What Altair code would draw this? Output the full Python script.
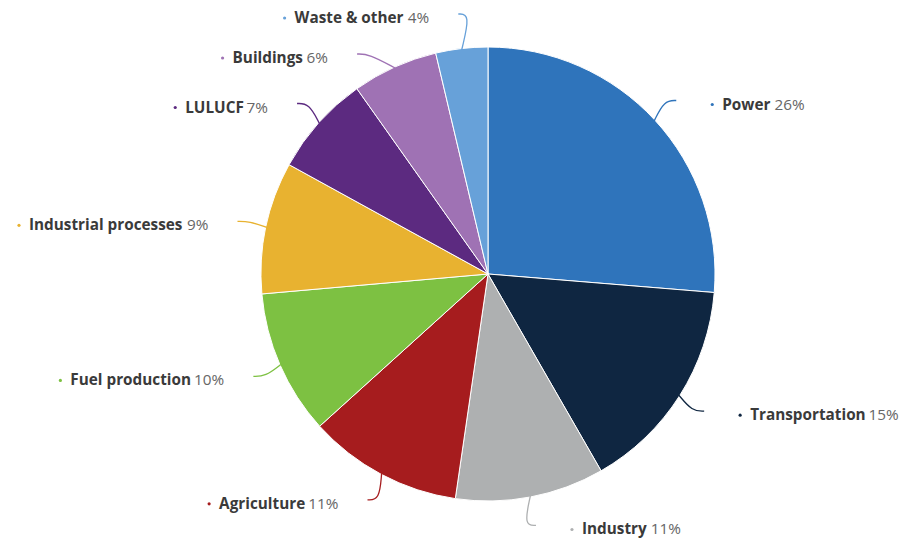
import math
import altair as alt
import pandas as pd

# ---- data ----
sectors = ["Power", "Transportation", "Industry", "Agriculture", "Fuel production",
           "Industrial processes", "LULUCF", "Buildings", "Waste & other"]
shares = [26.3, 15.4, 10.6, 11.0, 10.3, 9.4, 7.2, 6.1, 3.7]
colors = ["#2f74bb", "#0f2641", "#aeb0b1", "#a61c1e", "#7dc142",
          "#e8b230", "#5c2a80", "#9f72b4", "#67a1d9"]

# ---- layout ----
W, H = 901, 548
CX, CY = 488, 274
R = 227
RC = R + 29
FS = 15.3
MIN_GAP = 40
FONT = "Open Sans"

BOLD = {' ': 532, 'a': 1225, 'b': 1290, 'c': 1045, 'd': 1290, 'e': 1208, 'f': 772,
        'g': 1138, 'h': 1325, 'i': 606, 'l': 606, 'n': 1325, 'o': 1268, 'p': 1290,
        'r': 918, 's': 1063, 't': 856, 'u': 1325, 'w': 1765, 'y': 1149, '&': 1616,
        'A': 1446, 'B': 1407, 'C': 1339, 'F': 1163, 'I': 735, 'L': 1124, 'P': 1300,
        'T': 1178, 'U': 1458, 'W': 2005}
REG = {' ': 532, '%': 1716}
for d in "0123456789":
    REG[d] = 1171


def text_width(s, table):
    return sum(table.get(ch, 1150) for ch in s) * FS / 2048


total = sum(shares)
rows = []
start = 0.0
for i, (name, v) in enumerate(zip(sectors, shares)):
    mid = (start + v / 2) / total * 2 * math.pi
    start += v
    rows.append(dict(idx=i, sector=name, pct=f"{round(v / total * 100)}%", mid=mid,
                     side=1 if math.sin(mid) >= 0 else -1,
                     ey=CY - RC * math.cos(mid), ex0=CX + RC * math.sin(mid)))

for side in (1, -1):
    grp = sorted([r for r in rows if r["side"] == side], key=lambda r: r["ey"])
    for _ in range(60):
        for a, b in zip(grp, grp[1:]):
            d = b["ey"] - a["ey"]
            if d < MIN_GAP:
                s = (MIN_GAP - d) / 2
                a["ey"] -= s
                b["ey"] += s
        for r in grp:
            r["ey"] = min(max(r["ey"], 14), H - 16)

sp = text_width(" ", REG)
label_rows, conn_rows = [], []
for r in rows:
    dy = r["ey"] - CY
    ex = CX + r["side"] * math.sqrt(RC ** 2 - dy ** 2) if abs(dy) < RC else r["ex0"]
    name_w = text_width(r["sector"], BOLD)
    pct_w = text_width(r["pct"], REG)
    if r["side"] == 1:
        dot_x = ex + 36
        name_x = dot_x + 10
        pct_x = name_x + name_w + sp
    else:
        end = ex - 29
        pct_x = end - pct_w
        name_x = pct_x - sp - name_w
        dot_x = name_x - 10
    ly = r["ey"] + 4
    label_rows.append(dict(sector=r["sector"], pct=r["pct"], dot_x=dot_x,
                           name_x=name_x, pct_x=pct_x, ly=ly))
    m = r["mid"]
    pts = [(CX + (R - 1) * math.sin(m), CY - (R - 1) * math.cos(m)),
           (ex - r["side"] * 12, r["ey"]),
           (ex, r["ey"])]
    for k, (px, py) in enumerate(pts):
        conn_rows.append(dict(sector=r["sector"], k=k, px=px, py=py))

pie_df = pd.DataFrame({"sector": sectors, "share": shares, "idx": list(range(len(sectors)))})
lab_df = pd.DataFrame(label_rows)
con_df = pd.DataFrame(conn_rows)

color_scale = alt.Scale(domain=sectors, range=colors)
xs = alt.Scale(domain=[0, W], range=[0, W])
ys = alt.Scale(domain=[0, H], range=[0, H])

pie = alt.Chart(pie_df).mark_arc(outerRadius=R, stroke="white", strokeWidth=1).encode(
    theta=alt.Theta("share:Q", stack=True),
    color=alt.Color("sector:N", scale=color_scale, legend=None),
    order=alt.Order("idx:Q"),
    x=alt.value(CX),
    y=alt.value(CY),
)

conn = alt.Chart(con_df).mark_line(interpolate="basis", strokeWidth=1.3).encode(
    x=alt.X("px:Q", scale=xs, axis=None),
    y=alt.Y("py:Q", scale=ys, axis=None),
    detail="sector:N",
    order="k:Q",
    color=alt.Color("sector:N", scale=color_scale, legend=None),
)

dots = alt.Chart(lab_df).mark_circle(size=10, opacity=1).encode(
    x=alt.X("dot_x:Q", scale=xs, axis=None),
    y=alt.Y("ly:Q", scale=ys, axis=None),
    color=alt.Color("sector:N", scale=color_scale, legend=None),
)

names = alt.Chart(lab_df).mark_text(align="left", baseline="middle", font=FONT,
                                    fontSize=FS, fontWeight="bold", color="#3a3a3a").encode(
    x=alt.X("name_x:Q", scale=xs, axis=None),
    y=alt.Y("ly:Q", scale=ys, axis=None),
    text="sector:N",
)

pcts = alt.Chart(lab_df).mark_text(align="left", baseline="middle", font=FONT,
                                   fontSize=FS, color="#666666").encode(
    x=alt.X("pct_x:Q", scale=xs, axis=None),
    y=alt.Y("ly:Q", scale=ys, axis=None),
    text="pct:N",
)

chart = alt.layer(pie, conn, dots, names, pcts).properties(
    width=W, height=H, autosize=alt.AutoSizeParams(type="none"), padding=0,
    background="white",
).configure_view(strokeWidth=0)

chart.save("out.html", embed_options={"renderer": "svg", "actions": False})
